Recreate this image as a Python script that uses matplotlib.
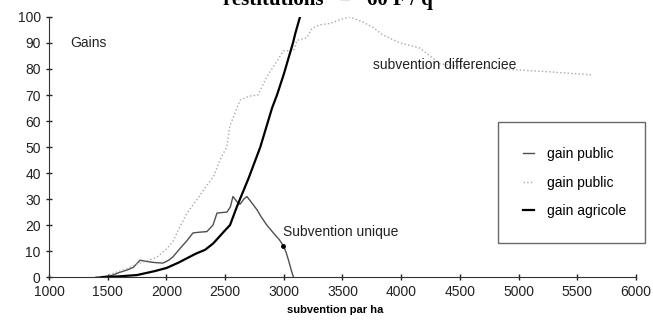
import matplotlib
matplotlib.use("Agg")
import matplotlib.pyplot as plt

plt.rcParams["font.family"] = ["Liberation Sans", "DejaVu Sans"]

# gain public - subvention unique
x_unique = [1400, 1500, 1545, 1600, 1664, 1720, 1775, 1835, 1900, 1971, 2020, 2056, 2116,
            2175, 2227, 2290, 2345, 2397, 2431, 2470, 2516, 2545, 2567, 2601, 2627, 2660,
            2685, 2720, 2770, 2810, 2855, 2911, 2960, 2997, 3020, 3040, 3068, 3082]
y_unique = [0, 0.3, 0.8, 1.8, 2.7, 3.8, 6.5, 6.0, 5.6, 5.4, 6.5, 7.8, 11,
            14, 17, 17.3, 17.5, 20, 24.6, 24.8, 25, 27, 31, 29, 28, 30,
            31, 29, 26, 23, 20, 17, 14.5, 12, 9.5, 6.5, 2, 0]

# gain public - subvention differenciee
x_diff = [1450, 1550, 1650, 1750, 1850, 1920, 2005, 2060, 2100, 2175, 2230, 2280, 2340,
          2400, 2456, 2514, 2540, 2627, 2700, 2780, 2855, 2942, 2997, 3083, 3112,
          3197, 3240, 3308, 3394, 3480, 3564, 3620, 3675, 3760, 3845, 3920, 3990,
          4080, 4160, 4245, 4330, 4500, 4700, 5012, 5300, 5634]
y_diff = [0, 1.5, 3, 5, 6.5, 7.7, 11, 14, 18, 24.6, 28, 31, 35,
          38.5, 45, 50, 58, 68, 69.5, 70, 77, 83, 87, 87, 91,
          92, 95.6, 97, 97.5, 99, 100, 99, 98, 96, 93, 91.5, 90,
          89, 88, 85, 82, 81, 80.5, 79.6, 78.8, 77.7]

# gain agricole
x_agri = [1450, 1500, 1600, 1750, 1900, 2000, 2100, 2250, 2330, 2400, 2500,
          2542, 2600, 2627, 2700, 2800, 2900, 2942, 3000, 3078, 3100, 3138]
y_agri = [0, 0.1, 0.3, 0.8, 2.3, 3.5, 5.5, 9, 10.5, 13, 18,
          20, 27, 30, 38, 50, 65, 70, 78, 90, 94, 100]

xticks = [1000, 1500, 2000, 2500, 3000, 3500, 4000, 4500, 5000, 5500, 6000]
yticks = [0, 10, 20, 30, 40, 50, 60, 70, 80, 90, 100]

fig = plt.figure(figsize=(6.53, 3.2), dpi=100)
ax = fig.add_axes([0.075, 0.134, 0.899, 0.813])

ax.plot(x_unique, y_unique, color="#505050", lw=1.0, label="gain public")
ax.plot(x_diff, y_diff, color="#a8a8a8", lw=1.0, ls=":", label="gain public")
ax.plot(x_agri, y_agri, color="black", lw=1.6, label="gain agricole")
ax.plot([2990], [12], "o", color="black", ms=2.5)

ax.set_xlim(1000, 6000)
ax.set_ylim(0, 100)
ax.set_xticks(xticks)
ax.set_yticks(yticks)
ax.tick_params(direction="inout", length=5, width=1, labelsize=10,
               colors="#222222")
ax.tick_params(axis="x", pad=3)
for s in ["top", "right"]:
    ax.spines[s].set_visible(False)
for s in ["left", "bottom"]:
    ax.spines[s].set_color("#333333")

ax.text(1180, 90, "Gains", fontsize=10, va="center", color="#222222")
ax.text(3760, 81.5, "subvention differenciee", fontsize=10, va="center", color="#222222")
ax.text(2993, 17.3, "Subvention unique", fontsize=10, va="center", color="#222222")

ax.set_xlabel("subvention par ha", fontsize=8, fontweight="bold")
ax.xaxis.set_label_coords(0.487, -0.108)

leg = fig.legend(loc="upper left", bbox_to_anchor=(0.763, 0.234, 0.225, 0.385),
                 mode="expand", fontsize=10, handlelength=0.8, labelspacing=1.05,
                 borderpad=1.8, frameon=True, fancybox=False, handletextpad=0.9,
                 borderaxespad=0)
leg.get_frame().set_edgecolor("#444444")
leg.get_frame().set_linewidth(1.0)

# titre coupe en haut de l'image
fig.text(0.5015, 1 - 5 / 320, "restitutions   =   60 F / q", fontsize=15,
         fontweight="bold", family="Liberation Serif", ha="center", va="baseline")

fig.savefig("out.png", dpi=100)
